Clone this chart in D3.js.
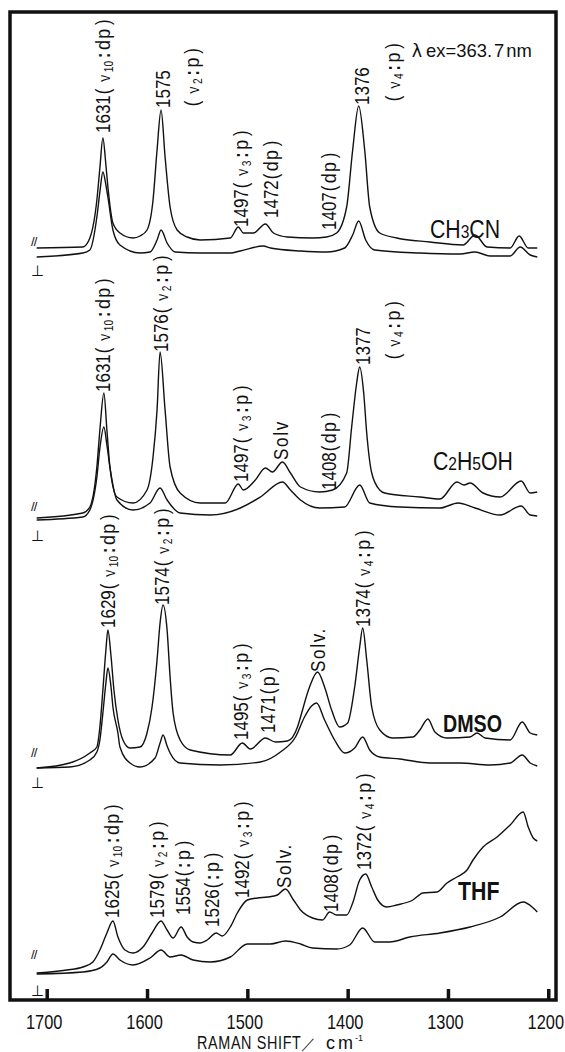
<!DOCTYPE html>
<html>
<head>
<meta charset="utf-8">
<script src="https://cdn.jsdelivr.net/npm/d3@7"></script>
<style>
  body { margin: 0; background: #fff; }
  svg { display: block; }
  text { font-family: "Liberation Sans", Arial, sans-serif; fill: #111; }
</style>
</head>
<body>
<div id="chart"></div>
<script>
// Raman spectra, [wavenumber (cm-1), intensity (a.u.)]
const ch3cnPar = [[1710,0],[1664,1],[1657,10],[1650,48],[1647,80],[1644,110],[1641,83],[1639,61],[1634,25],[1627,15],[1614,10],[1607,12],[1600,18],[1594,48],[1590,98],[1586,138],[1582,91],[1577,41],[1570,18],[1560,11],[1547,8],[1517,10],[1509,21],[1504,15],[1494,15],[1482,24],[1474,15],[1460,11],[1435,10],[1421,11],[1411,15],[1401,41],[1395,98],[1389,142],[1383,98],[1378,41],[1368,15],[1351,10],[1318,6],[1285,3],[1273,13],[1261,1],[1238,0],[1229,12],[1220,0],[1211,0]];
const ch3cnPerp = [[1710,0],[1664,4],[1657,7],[1650,40],[1647,65],[1644,85],[1641,72],[1639,60],[1634,27],[1627,12],[1607,4],[1597,5],[1590,17],[1586,27],[1580,14],[1572,5],[1547,4],[1517,4],[1507,6],[1484,11],[1477,9],[1447,6],[1421,5],[1403,9],[1395,22],[1389,36],[1382,17],[1373,7],[1328,4],[1288,3],[1273,5],[1258,1],[1238,1],[1228,10],[1218,2],[1211,0]];
const c2h5ohPar = [[1710,0],[1664,5],[1657,11],[1650,51],[1647,88],[1643,125],[1640,88],[1637,51],[1630,21],[1614,15],[1600,28],[1594,61],[1590,108],[1587,166],[1582,108],[1577,51],[1567,25],[1547,15],[1522,15],[1509,34],[1504,28],[1492,38],[1482,50],[1475,46],[1465,56],[1457,45],[1447,31],[1428,26],[1415,28],[1401,45],[1396,91],[1391,135],[1388,151],[1384,125],[1381,85],[1376,45],[1368,28],[1363,25],[1328,21],[1308,19],[1291,36],[1284,33],[1278,35],[1265,25],[1248,21],[1227,37],[1218,25],[1211,26]];
const c2h5ohPerp = [[1710,0],[1664,3],[1657,10],[1650,43],[1647,72],[1643,93],[1640,75],[1637,53],[1630,20],[1614,10],[1597,17],[1587,32],[1580,20],[1567,7],[1537,5],[1507,12],[1487,23],[1465,38],[1457,30],[1447,20],[1428,12],[1403,13],[1388,35],[1378,17],[1348,13],[1308,12],[1290,17],[1273,12],[1248,5],[1227,14],[1218,5],[1211,4]];
const dmsoPar = [[1710,0],[1677,5],[1657,15],[1650,21],[1647,41],[1644,78],[1641,118],[1639,138],[1636,113],[1633,78],[1629,48],[1624,28],[1617,20],[1607,21],[1600,35],[1595,61],[1590,108],[1587,145],[1584,163],[1580,138],[1577,91],[1574,55],[1567,28],[1557,18],[1517,13],[1505,25],[1497,19],[1482,30],[1472,26],[1460,27],[1450,41],[1447,51],[1438,81],[1430,96],[1423,81],[1416,58],[1408,41],[1400,45],[1393,81],[1388,121],[1385,140],[1381,108],[1376,61],[1368,38],[1355,30],[1335,31],[1328,38],[1320,49],[1313,36],[1301,30],[1278,31],[1271,35],[1263,30],[1238,28],[1226,46],[1218,35],[1211,33]];
const dmsoPerp = [[1710,0],[1677,1],[1657,8],[1650,16],[1647,28],[1644,55],[1641,85],[1639,100],[1636,82],[1634,61],[1629,35],[1627,21],[1617,5],[1607,1],[1592,10],[1587,25],[1584,33],[1580,22],[1577,15],[1567,5],[1527,3],[1487,6],[1467,16],[1452,31],[1443,51],[1436,62],[1431,65],[1423,48],[1413,28],[1403,15],[1393,20],[1385,31],[1378,18],[1368,11],[1348,9],[1318,5],[1288,5],[1258,3],[1238,5],[1226,13],[1218,5],[1211,2]];
const thfPar = [[1710,0],[1697,1],[1680,3],[1664,6],[1654,11],[1647,23],[1640,40],[1634,52],[1629,36],[1622,23],[1614,20],[1604,26],[1595,40],[1586,52],[1580,43],[1574,35],[1566,46],[1560,36],[1554,31],[1547,30],[1540,33],[1531,40],[1525,37],[1517,46],[1510,60],[1500,73],[1490,75],[1480,76],[1470,78],[1462,84],[1454,73],[1447,63],[1435,55],[1425,53],[1418,61],[1411,58],[1401,58],[1395,70],[1388,93],[1382,99],[1376,86],[1370,73],[1361,66],[1351,68],[1335,73],[1325,80],[1311,81],[1301,90],[1291,96],[1281,103],[1275,113],[1265,126],[1251,136],[1238,148],[1225,161],[1220,146],[1215,135],[1211,132]];
const thfPerp = [[1710,0],[1664,2],[1647,6],[1640,12],[1634,20],[1627,14],[1614,9],[1597,16],[1586,24],[1577,17],[1566,19],[1554,14],[1537,12],[1517,17],[1500,30],[1477,30],[1462,33],[1447,30],[1435,26],[1411,25],[1398,29],[1385,46],[1373,32],[1358,32],[1338,37],[1308,41],[1278,47],[1248,57],[1225,72],[1215,66],[1211,62]];

const traces = [ch3cnPar, ch3cnPerp, c2h5ohPar, c2h5ohPerp, dmsoPar, dmsoPerp, thfPar, thfPerp];
// vertical stacking of each trace (a.u.)
const traceOffsets = [752, 743, 482, 480, 232, 232, 27, 26];

const solventNames = ["CH3CN", "C2H5OH", "DMSO", "THF"];
const solventWn = [1318, 1315, 1305, 1290];
const solventLevel = [762, 530, 268, 100];
const parLevel = [759, 494, 248, 46];
const perpLevel = [730, 465, 218, 10];

const xTicks = [1700, 1600, 1500, 1400, 1300, 1200];

// [label, wavenumber, level]
const peakLabels = [
  ["1631(ν10:dp)", 1644, 867], ["1575", 1584, 892], ["(ν2:p)", 1555, 893],
  ["1497(ν3:p)", 1506, 773], ["1472(dp)", 1476, 782], ["1407(dp)", 1419, 770],
  ["1376", 1386, 895], ["(ν4:p)", 1355, 898],
  ["1631(ν10:dp)", 1644, 608], ["1576(ν2:p)", 1586, 648], ["1497(ν3:p)", 1506, 518],
  ["Solv", 1466, 540], ["1408(dp)", 1419, 510], ["1377", 1385, 635], ["(ν4:p)", 1355, 640],
  ["1629(ν10:dp)", 1639, 372], ["1574(ν2:p)", 1585, 395], ["1495(ν3:p)", 1506, 260],
  ["1471(p)", 1479, 267], ["Solv.", 1430, 328], ["1374(ν4:p)", 1385, 373],
  ["1625(ν10:dp)", 1635, 82], ["1579(ν2:p)", 1590, 82], ["1554(:p)", 1564, 85],
  ["1526(:p)", 1535, 73], ["1492(ν3:p)", 1505, 102], ["Solv.", 1463, 112],
  ["1408(dp)", 1417, 88], ["1372(ν4:p)", 1384, 130]
];

const W = 565, H = 1052;
const frame = { left: 10, right: 556, top: 12, bottom: 1000 };
const narrow = 0.85; // squeeze Liberation Sans into a narrow face

const x = d3.scaleLinear().domain([1736.6, 1192.3]).range([frame.left, frame.right]);
const y = d3.scaleLinear().domain([0, 988]).range([frame.bottom, frame.top]);

const svg = d3.select("#chart").append("svg").attr("width", W).attr("height", H);
svg.append("rect").attr("width", W).attr("height", H).attr("fill", "#fff");

// spectra
traces.forEach((data, i) => {
  const line = d3.line()
    .x((d) => x(d[0]))
    .y((d) => y(d[1] + traceOffsets[i]))
    .curve(d3.curveMonotoneX);
  svg.append("path")
    .datum(data)
    .attr("d", line)
    .attr("fill", "none")
    .attr("stroke", "#111")
    .attr("stroke-width", 1.4)
    .attr("stroke-linejoin", "round");
});

// frame
svg.append("rect")
  .attr("x", frame.left).attr("y", frame.top)
  .attr("width", frame.right - frame.left).attr("height", frame.bottom - frame.top)
  .attr("fill", "none").attr("stroke", "#111").attr("stroke-width", 3.5);

// x axis, ticks pointing inwards
const xAxis = d3.axisBottom(x)
  .tickValues(xTicks)
  .tickSizeInner(-11)
  .tickSizeOuter(0)
  .tickPadding(15)
  .tickFormat(d3.format("d"));

svg.append("g")
  .attr("transform", `translate(0,${frame.bottom})`)
  .call(xAxis)
  .call((g) => g.select(".domain").remove())
  .call((g) => g.selectAll(".tick line").attr("stroke", "#111").attr("stroke-width", 3.5))
  .call((g) => g.selectAll(".tick text")
    .attr("font-size", 20)
    .attr("font-family", null)
    .attr("fill", "#111")
    .attr("transform", `translate(-3,0) scale(0.82,1)`));

// axis title
svg.append("text")
  .attr("transform", "translate(197,1049) scale(0.8,1)")
  .attr("font-size", 18)
  .attr("letter-spacing", 0.8)
  .text("RAMAN SHIFT");
svg.append("text").attr("x", 301).attr("y", 1049)
  .attr("font-size", 15).attr("font-family", "Noto Sans CJK JP")
  .text("／");
const unit = svg.append("text").attr("x", 326).attr("y", 1049)
  .attr("font-size", 18).attr("font-family", "Liberation Serif, serif");
unit.append("tspan").attr("letter-spacing", 3).text("cm");
unit.append("tspan").attr("dx", -1).attr("dy", -8).attr("font-size", 9).text("-1");

// excitation wavelength
const lam = svg.append("text")
  .attr("transform", `translate(${x(1336)},${y(943)}) scale(0.97,1)`)
  .attr("font-size", 19);
lam.append("tspan").attr("font-family", "DejaVu Sans").attr("font-size", 18).text("λ");
lam.append("tspan").attr("dx", 4).text("ex=363.");
lam.append("tspan").attr("dx", 2).text("7");
lam.append("tspan").attr("dx", 2).text("nm");

// peak labels, rotated
const labelRe = /^(\d*)(?:\((?:ν(\d+))?(:?)(\w*)\))?$/;
peakLabels.forEach(([s, wn, lv]) => {
  const t = svg.append("text")
    .attr("font-size", 20)
    .attr("transform", `translate(${x(wn) + 7},${y(lv)}) rotate(-90) scale(${narrow},1)`);
  if (s.startsWith("Solv")) {
    t.attr("letter-spacing", 2).text(s);
    return;
  }
  const m = s.match(labelRe);
  if (m[1]) t.append("tspan").text(m[1]);
  if (s.includes("(")) {
    t.append("tspan").attr("dx", 1).text("(");
    if (m[2]) {
      t.append("tspan").attr("dx", 8).attr("font-size", 16).attr("font-family", "Noto Sans CJK JP").text("ν");
      t.append("tspan").attr("dx", 3).attr("dy", 3).attr("font-size", 12).text(m[2]);
    }
    if (m[3]) t.append("tspan").attr("dx", 3).attr("dy", m[2] ? -3 : 0).attr("font-weight", "bold").text(":");
    t.append("tspan").attr("dx", 3).attr("font-size", 21).attr("letter-spacing", 1.5).text(m[4]);
    t.append("tspan").attr("dx", 3).text(")");
  }
});

// solvent names, digits drawn smaller on the baseline
solventNames.forEach((name, i) => {
  const bold = name === "DMSO" || name === "THF";
  const t = svg.append("text")
    .attr("transform", `translate(${x(solventWn[i])},${y(solventLevel[i])}) scale(0.82,1)`)
    .attr("font-size", name === "DMSO" ? 24 : 26)
    .attr("font-weight", bold ? "bold" : "normal");
  name.split(/(\d)/).filter((p) => p).forEach((p) => {
    const tp = t.append("tspan").text(p);
    if (/\d/.test(p)) tp.attr("font-size", 19);
  });
});

// polarization marks
parLevel.forEach((lv) => {
  svg.append("text")
    .attr("x", x(1713)).attr("y", y(lv))
    .attr("text-anchor", "middle").attr("dominant-baseline", "central")
    .attr("font-family", "DejaVu Sans").attr("font-size", 13)
    .attr("letter-spacing", -1)
    .text("//");
});
perpLevel.forEach((lv) => {
  svg.append("text")
    .attr("x", x(1709)).attr("y", y(lv))
    .attr("text-anchor", "middle").attr("dominant-baseline", "central")
    .attr("font-family", "DejaVu Sans").attr("font-size", 15)
    .text("⊥");
});
</script>
</body>
</html>
